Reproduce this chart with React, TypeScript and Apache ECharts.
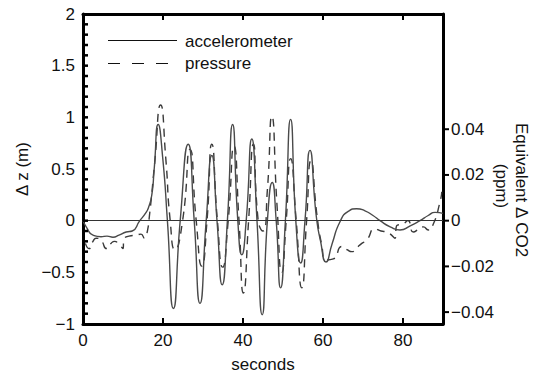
import React, { useEffect, useRef } from "react";
import * as echarts from "echarts";

const accelT = [0, 0.8, 2.5, 4.5, 6, 7.5, 9, 10.8, 12.3, 14.2, 15.6, 16.4, 17.2, 17.8, 18.8, 19.9, 21.1, 22.6, 24.3, 26.3, 27.8, 29.25, 30.8, 32.2, 33.5, 34.8, 36.1, 37.4, 38.7, 39.7, 40.8, 42.2, 43.5, 44.8, 46.1, 47.3, 48.3, 49.4, 50.6, 51.9, 53.2, 54.4, 55.5, 56.75, 58.3, 59.4, 60.75, 62.3, 64.25, 66.3, 68.4, 70.5, 72.5, 74.25, 76.8, 79.25, 81.8, 84.25, 86.3, 88, 90];
const accelV = [0, -0.06, -0.14, -0.155, -0.15, -0.16, -0.14, -0.11, -0.1, 0, 0.07, 0.13, 0.25, 0.5, 0.93, 0.62, 0, -0.85, 0, 0.74, 0, -0.8, 0, 0.63, 0, -0.62, 0, 0.93, 0, -0.33, 0, 0.79, 0, -0.91, 0, 0.37, 0, -0.65, 0, 0.98, 0, -0.41, 0, 0.68, 0.05, -0.2, -0.4, -0.22, -0.01, 0.09, 0.115, 0.095, 0.05, 0, -0.06, -0.09, -0.05, 0, 0.05, 0.08, 0.07];

const pressT = [0.6, 1.5, 2.5, 3.3, 4.5, 5.9, 7, 7.9, 9, 10, 10.2, 11.5, 13.3, 14.5, 15.4, 15.9, 16.7, 17.9, 19.4, 20.7, 21.8, 23, 24.9, 26.75, 28.3, 29.7, 31, 32.2, 33.6, 34.9, 36.3, 37.75, 39, 40.1, 41.4, 42.6, 43.8, 45, 46.1, 47.2, 48.5, 49.7, 50.8, 51.9, 53.3, 54.7, 55.9, 57, 58.5, 59.7, 60.75, 62.6, 64.7, 66, 67.2, 68.5, 69.7, 70.9, 73, 74.5, 75.9, 78, 78.4, 80.1, 81.2, 82.6, 84, 85.1, 86.3, 87.5, 89.25, 89.7];
const pressV = [-0.22, -0.27, -0.2, -0.17, -0.19, -0.27, -0.22, -0.2, -0.23, -0.27, -0.19, -0.15, -0.14, -0.13, -0.17, -0.14, 0.08, 0.55, 1.12, 0.6, 0, -0.28, 0, 0.69, 0, -0.44, 0, 0.74, 0, -0.45, 0, 0.72, 0, -0.7, 0, 0.74, 0, -0.1, 0.3, 1.01, 0.15, -0.5, 0, 0.6, 0, -0.65, 0, 0.58, 0.05, -0.24, -0.38, -0.37, -0.25, -0.28, -0.3, -0.26, -0.22, -0.19, -0.08, -0.1, -0.11, -0.17, -0.05, -0.03, 0, -0.11, -0.08, -0.06, -0.09, -0.04, 0.18, 0.28];

const leftLabels = [-1, -0.5, 0, 0.5, 1, 1.5, 2];
const leftTicks = [-0.9, -0.8, -0.7, -0.6, -0.5, -0.4, -0.3, -0.2, -0.1, 0, 0.1, 0.2, 0.3, 0.4, 0.5, 0.6, 0.7, 0.8, 0.9, 1, 1.1, 1.2, 1.3, 1.4, 1.5, 1.6, 1.7, 1.8, 1.9];
const xTicks = [20, 40, 60, 80];
const rightTicks = [-0.04, -0.02, 0, 0.02, 0.04];
const legendNames = ["accelerometer", "pressure"];

const FONT = "Liberation Sans";
const minus = (s: string) => s.replace("-", "\u2212");

export default function App() {
  const ref = useRef<HTMLDivElement>(null);
  useEffect(() => {
    if (!ref.current) return;
    const chart = echarts.init(ref.current, null, { renderer: "svg" });
    const accel = accelT.map((t, i) => [t, accelV[i]]);
    const press = pressT.map((t, i) => [t, pressV[i]]);
    const axisLine = { show: true, onZero: false, lineStyle: { color: "#000", width: 3 } };
    const baseGraphic: any[] = [
      {
        type: "line",
        shape: { x1: 108, y1: 40.5, x2: 177, y2: 40.5 },
        style: { stroke: "#111", lineWidth: 1 },
      },
      {
        type: "line",
        shape: { x1: 108, y1: 63.5, x2: 177, y2: 63.5 },
        style: { stroke: "#111", lineWidth: 1, lineDash: [12, 12] },
      },
      {
        type: "text",
        x: 185,
        y: 41,
        style: { text: legendNames[0], fontSize: 17, fontFamily: FONT, fill: "#111", verticalAlign: "middle" },
      },
      {
        type: "text",
        x: 185,
        y: 63,
        style: { text: legendNames[1], fontSize: 17, fontFamily: FONT, fill: "#111", verticalAlign: "middle" },
      },
      {
        type: "text",
        x: 521,
        y: 190,
        rotation: -Math.PI / 2,
        style: {
          text: "Equivalent \u0394 CO2",
          fontSize: 17,
          fontFamily: FONT,
          fill: "#111",
          align: "center",
          verticalAlign: "middle",
        },
      },
      {
        type: "text",
        x: 501,
        y: 186,
        rotation: -Math.PI / 2,
        style: {
          text: "(ppm)",
          fontSize: 17,
          fontFamily: FONT,
          fill: "#111",
          align: "center",
          verticalAlign: "middle",
        },
      },
    ];
    chart.setOption({
      animation: false,
      backgroundColor: "#fff",
      textStyle: { fontFamily: FONT },
      grid: { left: 83, right: 91, top: 14, bottom: 52 },
      xAxis: [
        {
          type: "value",
          min: 0,
          max: 90,
          interval: 20,
          name: "seconds",
          nameLocation: "middle",
          nameGap: 32,
          nameTextStyle: { fontSize: 17, color: "#111" },
          axisLine,
          axisTick: { show: false },
          axisLabel: { fontSize: 17, color: "#111", margin: 8, showMaxLabel: false },
          splitLine: { show: false },
        },
        {
          type: "value",
          position: "top",
          min: 0,
          max: 90,
          interval: 20,
          axisLine,
          axisTick: { show: false },
          axisLabel: { show: false },
          splitLine: { show: false },
        },
      ],
      yAxis: [
        {
          type: "value",
          min: -1,
          max: 2,
          interval: 0.5,
          name: "\u0394 z (m)",
          nameLocation: "middle",
          nameGap: 52,
          nameTextStyle: { fontSize: 17, color: "#111" },
          axisLine,
          axisTick: { show: false },
          axisLabel: {
            fontSize: 17,
            color: "#111",
            margin: 8,
            customValues: leftLabels,
            formatter: (v: number) => minus(String(v)),
          },
          splitLine: { show: false },
        },
        {
          type: "value",
          position: "right",
          min: -0.0452,
          max: 0.0904,
          axisLine,
          axisTick: { show: false },
          axisLabel: {
            fontSize: 17,
            color: "#111",
            margin: 8,
            customValues: rightTicks,
            formatter: (v: number) => (Math.abs(v) < 1e-9 ? "0" : minus(v.toFixed(2))),
          },
          splitLine: { show: false },
        },
      ],
      graphic: baseGraphic,
      series: [
        {
          name: legendNames[0],
          type: "line",
          data: accel,
          smooth: 0.6,
          symbol: "none",
          lineStyle: { color: "#4a4a4a", width: 1.4 },
          markLine: {
            silent: true,
            symbol: "none",
            label: { show: false },
            lineStyle: { color: "#333", width: 1, type: "solid" },
            data: [{ yAxis: 0 }],
          },
          z: 3,
        },
        {
          name: legendNames[1],
          type: "line",
          data: press,
          smooth: 0.6,
          symbol: "none",
          lineStyle: { color: "#3a3a3a", width: 1.4, type: [8, 6] },
          z: 2,
        },
      ],
    });

    // Tick marks placed through the chart's own scales (drawn as filled rects).
    const ticks: any[] = [];
    const box = (x: number, y: number, w: number, h: number) =>
      ticks.push({ type: "rect", z: 100, shape: { x, y, width: w, height: h }, style: { fill: "#000" } });
    leftTicks.forEach((v) => {
      const p = chart.convertToPixel({ gridIndex: 0 }, [0, v]) as number[];
      if (p) box(p[0], p[1] - 1.25, 5, 2.5);
    });
    xTicks.forEach((t) => {
      const pb = chart.convertToPixel({ gridIndex: 0 }, [t, -1]) as number[];
      if (pb) box(pb[0] - 1, pb[1] - 6, 2, 6);
      const pt = chart.convertToPixel({ gridIndex: 0 }, [t, 2]) as number[];
      if (pt) box(pt[0] - 1, pt[1], 2, 6);
    });
    rightTicks.forEach((v) => {
      const y = chart.convertToPixel({ yAxisIndex: 1 }, v) as number;
      const x = chart.convertToPixel({ xAxisIndex: 0 }, 90) as number;
      if (typeof y === "number" && typeof x === "number") box(x, y - 1, 6, 2);
    });
    chart.setOption({ graphic: [...baseGraphic, ...ticks] }, { replaceMerge: ["graphic"] });

    return () => chart.dispose();
  }, []);
  return <div ref={ref} style={{ width: 534, height: 378, position: "absolute", left: 0, top: 0 }} />;
}
